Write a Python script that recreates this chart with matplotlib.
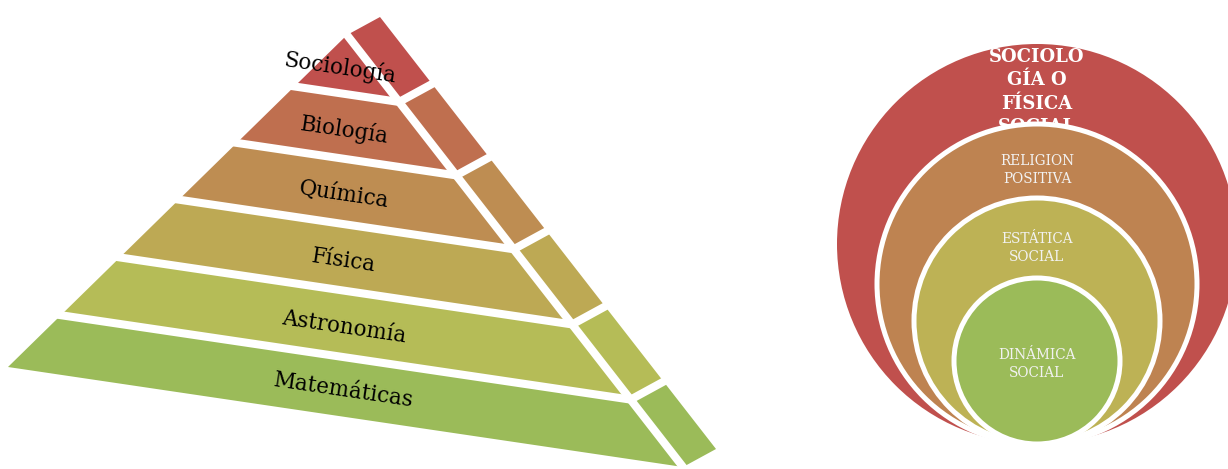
import colorsys
import math
import matplotlib
matplotlib.use("Agg")
import matplotlib.pyplot as plt
from matplotlib.patches import Polygon, Circle

# contenido del diagrama
niveles = ["Sociología", "Biología", "Química", "Física", "Astronomía", "Matemáticas"]
circulos = ["SOCIOLO\nGÍA O\nFÍSICA\nSOCIAL", "RELIGION\nPOSITIVA", "ESTÁTICA\nSOCIAL", "DINÁMICA\nSOCIAL"]

# colores: de rojo (C0504D) a verde (9BBB59) interpolando en HLS
def mezcla(t):
    h0, l0, s0 = colorsys.rgb_to_hls(0xC0/255, 0x50/255, 0x4D/255)
    h1, l1, s1 = colorsys.rgb_to_hls(0x9B/255, 0xBB/255, 0x59/255)
    return colorsys.hls_to_rgb(h0 + (h1-h0)*t, l0 + (l1-l0)*t, s0 + (s1-s0)*t)

fig = plt.figure(figsize=(12.28, 4.69), dpi=100)
ax = fig.add_axes([0, 0, 1, 1])
ax.set_xlim(0, 1228)
ax.set_ylim(469, 0)
ax.axis("off")

# ---- piramide ----
A = (347, 35)
BL = (8, 367)
BR = (683, 467)
W = (33, -18)
cortes = [0.0, 0.155, 0.325, 0.496, 0.670, 0.844, 1.0]

def lerp(p, q, t):
    return (p[0] + (q[0]-p[0])*t, p[1] + (q[1]-p[1])*t)

def mas(p, v):
    return (p[0]+v[0], p[1]+v[1])

ang = -math.degrees(math.atan2(BR[1]-BL[1], BR[0]-BL[0]))
n = len(niveles)
for i in range(n):
    t0, t1 = cortes[i], cortes[i+1]
    col = mezcla(i/(n-1))
    L0, L1 = lerp(A, BL, t0), lerp(A, BL, t1)
    R0, R1 = lerp(A, BR, t0), lerp(A, BR, t1)
    ax.add_patch(Polygon([L0, R0, R1, L1], closed=True, fc=col, ec="none", zorder=1))
    ax.add_patch(Polygon([R0, mas(R0, W), mas(R1, W), R1], closed=True, fc=col, ec="none", zorder=1))
    tm = (t0+t1)/2
    Lm, Rm = lerp(A, BL, tm), lerp(A, BR, tm)
    dx = -7 if i == 0 else -2
    ax.text((Lm[0]+Rm[0])/2 + dx, (Lm[1]+Rm[1])/2 + 3, niveles[i], family="DejaVu Serif",
            fontsize=15.5, color="black", rotation=ang, rotation_mode="anchor",
            ha="center", va="center", zorder=5)

# separaciones blancas
for c in cortes[1:-1]:
    Lc, Rc = lerp(A, BL, c), lerp(A, BR, c)
    Wc = mas(Rc, W)
    ax.plot([Lc[0], Rc[0], Wc[0]], [Lc[1], Rc[1], Wc[1]], color="white", lw=5.8,
            solid_capstyle="projecting", zorder=3)
ax.plot([A[0], BR[0]], [A[1], BR[1]], color="white", lw=5.8, solid_capstyle="projecting", zorder=3)

# ---- circulos ----
cx = 1037
fondo = 444
radios = [200, 160, 123, 83]
for k, r in enumerate(radios):
    col = mezcla(k/(len(radios)-1))
    z = 10 + 2*k
    ax.add_patch(Circle((cx, fondo - r), r, fc=col, ec="white", lw=3.6 if k else 0, zorder=z))

ax.text(cx, 48, circulos[0], family="DejaVu Serif", fontweight="bold", fontsize=13,
        color="white", ha="center", va="top", linespacing=1.38, zorder=11)
ytxt = [170, 248, 364]
for k in range(1, 4):
    ax.text(cx, ytxt[k-1], circulos[k], family="DejaVu Serif", fontsize=9.8,
            color="#F2F2F2", ha="center", va="center", linespacing=1.3, zorder=11 + 2*k)

fig.savefig("out.png", dpi=100)
